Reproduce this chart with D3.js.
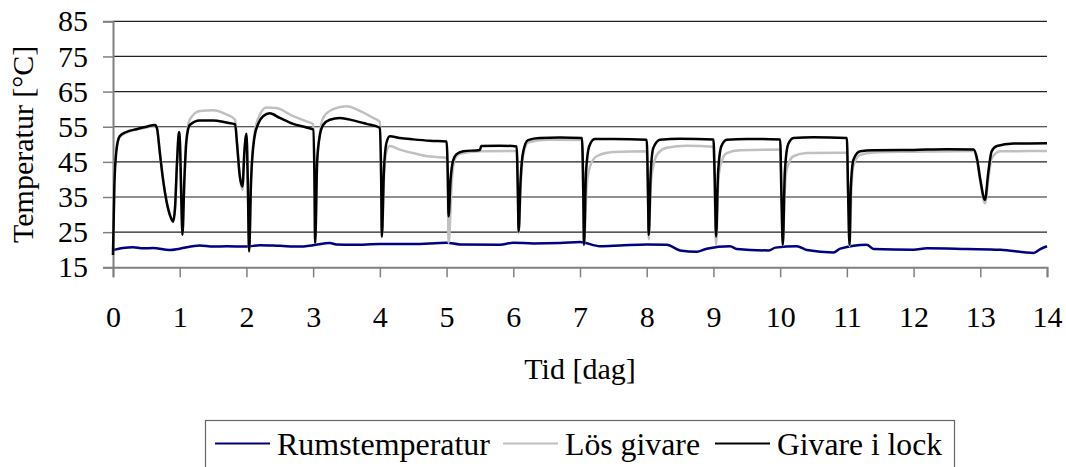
<!DOCTYPE html>
<html>
<head>
<meta charset="utf-8">
<title>Temperatur</title>
<script src="https://cdn.jsdelivr.net/npm/d3@7"></script>
<style>
  body { margin: 0; background: #fff; }
  svg text { font-family: "Liberation Serif", "Times New Roman", serif; fill: #000; }
</style>
</head>
<body>
<div id="chart"></div>
<script>
// tick values
var xTicks = d3.range(0, 15, 1);
var yTicks = [15, 25, 35, 45, 55, 65, 75, 85];

// [dag, °C]
var rumstemperatur = [
  [0, 19.9], [0.15, 20.5], [0.3, 20.7], [0.45, 20.4], [0.6, 20.5], [0.85, 19.9], [1.0, 20.3], [1.3, 21.2],
  [1.5, 20.9], [1.7, 21.0], [2.0, 20.9], [2.2, 21.3], [2.5, 21.1], [2.8, 20.9], [3.0, 21.3], [3.25, 21.9],
  [3.35, 21.5], [3.6, 21.4], [4.0, 21.6], [4.5, 21.6], [5.0, 22.0], [5.2, 21.5], [5.8, 21.4], [6.0, 22.0],
  [6.3, 21.8], [6.7, 21.9], [7.0, 22.2], [7.3, 21.0], [7.6, 21.2], [8.0, 21.5], [8.3, 21.4], [8.5, 19.8],
  [8.75, 19.4], [8.9, 20.3], [9.25, 21.0], [9.35, 20.2], [9.83, 19.8], [9.93, 20.6], [10.25, 21.0],
  [10.4, 19.9], [10.8, 19.2], [10.9, 20.3], [11.3, 21.4], [11.4, 20.2], [12.0, 20.0], [12.2, 20.4],
  [12.8, 20.2], [13.3, 20.0], [13.8, 19.1], [13.9, 20.2], [14.0, 21.0]
];

var losGivare = [
  [0, 19], [0.02, 40], [0.05, 49], [0.1, 52], [0.2, 53.3], [0.35, 54.2], [0.5, 54.8], [0.63, 55.3],
  [0.66, 54.5], [0.7, 48], [0.75, 40], [0.8, 34], [0.86, 29.5], [0.9, 28], [0.93, 32], [0.96, 45],
  [0.99, 53.5], [1.0, 52], [1.03, 30], [1.04, 24.2], [1.07, 40], [1.1, 51], [1.15, 57], [1.3, 59.5],
  [1.5, 59.7], [1.7, 58.5], [1.83, 57], [1.86, 50], [1.9, 41], [1.94, 37], [1.97, 48], [2.0, 53],
  [2.02, 40], [2.04, 19.5], [2.07, 40], [2.12, 53], [2.18, 57.5], [2.3, 60.5], [2.45, 60.3],
  [2.7, 58], [2.9, 56.5], [3.0, 55.7], [3.02, 40], [3.03, 21.9], [3.06, 45], [3.1, 53], [3.15, 57.5],
  [3.3, 60], [3.5, 60.8], [3.7, 59.5], [3.9, 57.5], [4.0, 56.4], [4.02, 40], [4.03, 23.7], [4.06, 40],
  [4.1, 48], [4.15, 49.5], [4.3, 48.5], [4.5, 47.5], [4.75, 46.5], [5.0, 46.2], [5.02, 35], [5.03, 21.9],
  [5.08, 40], [5.12, 45.7], [5.2, 47.3], [5.5, 48], [6.05, 48.1], [6.07, 35], [6.08, 24.7], [6.11, 38],
  [6.15, 47], [6.22, 50.5], [6.5, 51.3], [7.03, 51.2], [7.05, 35], [7.06, 21.4], [7.1, 38], [7.15, 43.7],
  [7.25, 46.6], [7.5, 47.8], [8.0, 48], [8.02, 35], [8.03, 23], [8.06, 38], [8.1, 44], [8.17, 47.5],
  [8.3, 49], [8.6, 49.6], [9.0, 49.3], [9.02, 35], [9.04, 21.4], [9.07, 38], [9.1, 43.7], [9.2, 47.5],
  [9.4, 48.3], [10.0, 48.5], [10.02, 35], [10.04, 21.4], [10.07, 37], [10.1, 43], [10.2, 46.6],
  [10.4, 47.5], [11.0, 47.6], [11.02, 35], [11.04, 21], [11.07, 38], [11.1, 44], [11.2, 47], [11.4, 47.7],
  [12.0, 47.9], [12.9, 48.1], [12.95, 45.5], [13.0, 39.5], [13.07, 33.2], [13.12, 40], [13.17, 46],
  [13.3, 48], [14.0, 48.1]
];

var givareILock = [
  [0, 18.5], [0.02, 38], [0.05, 48], [0.1, 52.3], [0.2, 53.5], [0.35, 54.3], [0.5, 55], [0.63, 55.5],
  [0.66, 54.5], [0.7, 48], [0.75, 40], [0.8, 34], [0.86, 29.5], [0.9, 28], [0.93, 32], [0.96, 45],
  [0.99, 53.5], [1.0, 52], [1.03, 30], [1.04, 24.2], [1.07, 40], [1.1, 51], [1.15, 55.5], [1.3, 56.8],
  [1.5, 56.8], [1.7, 56.2], [1.83, 55.7], [1.86, 50], [1.9, 41], [1.94, 38], [1.97, 48], [2.0, 53],
  [2.02, 40], [2.04, 19.5], [2.07, 40], [2.12, 52], [2.18, 56], [2.25, 58], [2.35, 58.8], [2.5, 57.5],
  [2.7, 55.8], [2.9, 54.8], [3.0, 54.2], [3.02, 40], [3.03, 21.9], [3.06, 45], [3.1, 52.5], [3.15, 55.5],
  [3.25, 57], [3.4, 57.5], [3.6, 56.8], [3.8, 55.8], [4.0, 54.7], [4.02, 40], [4.03, 23.7], [4.06, 42],
  [4.1, 50.5], [4.15, 52.3], [4.3, 51.8], [4.5, 51.4], [4.75, 51], [5.0, 50.8], [5.02, 40], [5.03, 29.5],
  [5.06, 40], [5.1, 45.5], [5.15, 47.2], [5.25, 48], [5.5, 48.4], [5.52, 49.5], [5.8, 49.6], [6.05, 49.4],
  [6.07, 35], [6.08, 25.2], [6.11, 40], [6.15, 48], [6.22, 51.2], [6.4, 51.8], [6.7, 51.9], [7.03, 51.8],
  [7.05, 35], [7.06, 21.4], [7.09, 42], [7.14, 49.5], [7.22, 51.5], [7.5, 51.5], [8.0, 51.3], [8.02, 35],
  [8.03, 24.2], [8.06, 42], [8.1, 49], [8.2, 51.3], [8.5, 51.6], [9.0, 51.4], [9.02, 40], [9.04, 23.7],
  [9.07, 42], [9.12, 49.5], [9.2, 51.3], [9.5, 51.5], [10.0, 51.4], [10.02, 35], [10.04, 21.4],
  [10.07, 42], [10.12, 50], [10.2, 51.8], [10.5, 52], [11.0, 51.8], [11.02, 35], [11.04, 21.4],
  [11.06, 38], [11.1, 45.7], [11.2, 48], [11.4, 48.3], [12.0, 48.4], [12.5, 48.6], [12.9, 48.5],
  [12.95, 46], [13.0, 40], [13.07, 34.2], [13.12, 42], [13.17, 48], [13.25, 49.5], [13.5, 50.2],
  [14.0, 50.3]
];

var seriesNames = ["Rumstemperatur", "Lös givare", "Givare i lock"];
var seriesColors = ["#000080", "#c0c0c0", "#000000"];
var seriesData = [rumstemperatur, losGivare, givareILock];

var width = 1066, height = 467;
var svg = d3.select("#chart").append("svg").attr("width", width).attr("height", height);

var x = d3.scaleLinear().domain([0, 14]).range([113, 1047]);
var y = d3.scaleLinear().domain([15, 85]).range([267.3, 21.3]);

// gridlines
svg.append("g").selectAll("line")
  .data(yTicks.slice(1))
  .enter().append("line")
  .attr("x1", x(0)).attr("x2", x(14))
  .attr("y1", function (d) { return y(d); })
  .attr("y2", function (d) { return y(d); })
  .attr("stroke", "#222").attr("stroke-width", 1.2);

// axes
var gx = svg.append("g").attr("transform", "translate(0," + y(15) + ")")
  .call(d3.axisBottom(x).tickValues(xTicks).tickSize(10).tickPadding(28).tickFormat(d3.format("d")));
var gy = svg.append("g").attr("transform", "translate(" + x(0) + ",0)")
  .call(d3.axisLeft(y).tickValues(yTicks).tickSize(10).tickPadding(15).tickFormat(d3.format("d")));

[gx, gy].forEach(function (g) {
  g.select(".domain").attr("stroke", "#808080").attr("stroke-width", 2);
  g.selectAll(".tick line").attr("stroke", "#808080").attr("stroke-width", 1.5);
  g.selectAll(".tick text")
    .style("font-size", "30px")
    .style("font-family", "'Liberation Serif', serif")
    .attr("fill", "#000");
});

// series
var line = d3.line()
  .curve(d3.curveMonotoneX)
  .x(function (d) { return x(d[0]); })
  .y(function (d) { return y(d[1]); });
svg.append("g").selectAll("path")
  .data(seriesData)
  .enter().append("path")
  .attr("d", line)
  .attr("fill", "none")
  .attr("stroke", function (d, i) { return seriesColors[i]; })
  .attr("stroke-width", 2.5)
  .attr("stroke-linejoin", "round");

// axis titles
svg.append("text")
  .attr("x", (x(0) + x(14)) / 2).attr("y", 379)
  .attr("text-anchor", "middle").style("font-size", "30px")
  .text("Tid [dag]");
svg.append("text")
  .attr("transform", "translate(33," + (y(15) + y(85)) / 2 + ") rotate(-90)")
  .attr("text-anchor", "middle").style("font-size", "30px")
  .text("Temperatur [°C]");

// legend
var legendX = [215, 503, 715];
var legendLen = [213, 135, 165];
var legend = svg.append("g");
legend.append("rect")
  .attr("x", 205.5).attr("y", 420.5).attr("width", 749).attr("height", 60)
  .attr("fill", "none").attr("stroke", "#666").attr("stroke-width", 1.2);
var item = legend.selectAll("g.item").data(seriesNames).enter().append("g").attr("class", "item");
item.append("line")
  .attr("x1", function (d, i) { return legendX[i]; })
  .attr("x2", function (d, i) { return legendX[i] + 55; })
  .attr("y1", 443.5).attr("y2", 443.5)
  .attr("stroke", function (d, i) { return seriesColors[i]; })
  .attr("stroke-width", 2.2);
item.append("text")
  .attr("x", function (d, i) { return legendX[i] + 62; })
  .attr("y", 455)
  .style("font-size", "31px")
  .attr("textLength", function (d, i) { return legendLen[i]; })
  .attr("lengthAdjust", "spacingAndGlyphs")
  .text(function (d) { return d; });
</script>
</body>
</html>
